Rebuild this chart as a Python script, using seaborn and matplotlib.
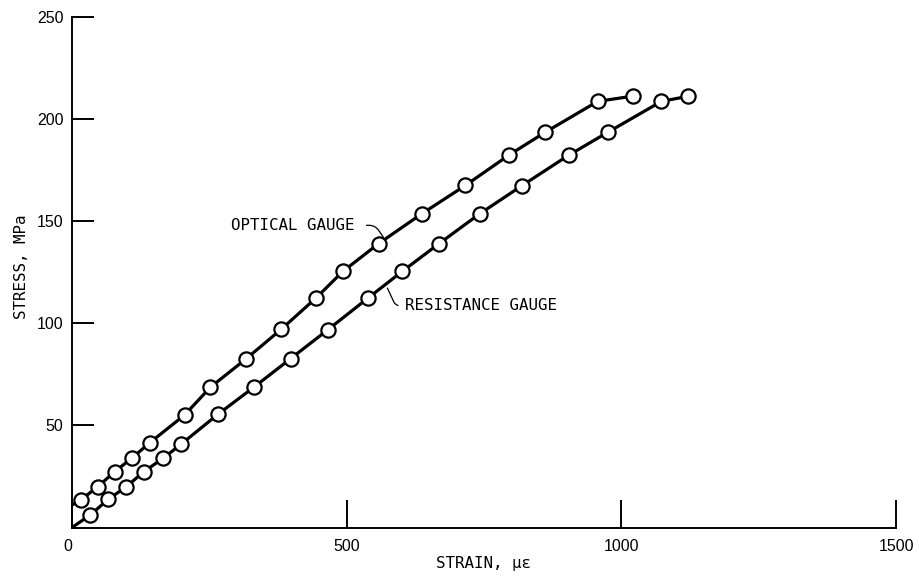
import numpy as np
import matplotlib
matplotlib.use('Agg')
import matplotlib.pyplot as plt
import pandas as pd
import seaborn as sns

# strain (micro-strain) vs stress (MPa)
optical_strain = [0, 16, 47, 78, 110, 142, 205, 252, 316, 381, 445, 493, 558, 637, 716, 796, 861, 957, 1022]
optical_stress = [11, 13.5, 20, 27.4, 34.2, 41.6, 55.1, 68.7, 82.4, 97.1, 112.6, 125.4, 139, 153.7, 167.5, 182.5, 193.5, 208.7, 211.3]

resist_strain = [0, 33, 66, 99, 131, 166, 199, 266, 331, 398, 466, 539, 601, 668, 742, 819, 904, 975, 1073, 1122]
resist_stress = [0, 6.1, 13.8, 20, 27.4, 33.9, 40.9, 55.5, 68.7, 82.7, 96.9, 112.4, 125.4, 139, 153.6, 167.4, 182.3, 193.5, 208.7, 211.2]

x_ticks = [0, 500, 1000, 1500]
y_ticks = [50, 100, 150, 200, 250]

opt = pd.DataFrame({'strain': optical_strain, 'stress': optical_stress})
res = pd.DataFrame({'strain': resist_strain, 'stress': resist_stress})

sns.set_style('ticks', {'text.color': 'black', 'axes.labelcolor': 'black',
                        'xtick.color': 'black', 'ytick.color': 'black',
                        'axes.edgecolor': 'black'})
mono = ['DejaVu Sans Mono']
num = ['Liberation Sans Narrow', 'Liberation Sans', 'DejaVu Sans']

fig, ax = plt.subplots(figsize=(9.19, 5.79), dpi=100)
fig.subplots_adjust(left=0.0783, right=0.975, bottom=0.0889, top=0.9706)

for d in (opt, res):
    sns.lineplot(data=d, x='strain', y='stress', sort=False, color='black', lw=2.3, ax=ax, zorder=2)
    sns.scatterplot(data=d.iloc[1:], x='strain', y='stress', marker='o', s=105, facecolor='white',
                    edgecolor='black', linewidth=1.6, ax=ax, zorder=3, legend=False)

ax.set_xlim(0, 1500)
ax.set_ylim(0, 250)
ax.set_xticks(x_ticks)
ax.set_yticks(y_ticks)
ax.set_xticklabels([str(v) for v in x_ticks], family=num, fontsize=11.5)
ax.set_yticklabels([str(v) for v in y_ticks], family=num, fontsize=11.5)
ax.get_xticklabels()[0].set_horizontalalignment('right')
ax.tick_params(axis='x', direction='in', length=20, width=1.4, pad=8, colors='black')
ax.tick_params(axis='y', direction='in', length=16, width=1.4, pad=6, colors='black')

sns.despine(ax=ax)
for s in ('left', 'bottom'):
    ax.spines[s].set_linewidth(1.4)
    ax.spines[s].set_color('black')

ax.set_xlabel('STRAIN, \u03bc\u03b5', family=mono, fontsize=11.4, labelpad=2, color='black')
ax.set_ylabel('STRESS, MPa', family=mono, fontsize=11.4, color='black')
ax.yaxis.set_label_coords(-0.052, 0.51)

ax.annotate('OPTICAL GAUGE', xy=(570, 141), xytext=(515, 148), textcoords='data',
            ha='right', va='center', family=mono, fontsize=11.4, color='black',
            arrowprops=dict(arrowstyle='-', color='black', lw=0.9, shrinkA=6, shrinkB=2,
                            connectionstyle='angle,angleA=0,angleB=-55,rad=6'))
ax.annotate('RESISTANCE GAUGE', xy=(572, 118.5), xytext=(607, 108.7), textcoords='data',
            ha='left', va='center', family=mono, fontsize=11.4, color='black',
            arrowprops=dict(arrowstyle='-', color='black', lw=0.9, shrinkA=3, shrinkB=2,
                            connectionstyle='angle,angleA=180,angleB=-65,rad=4'))

plt.savefig('out.png', dpi=100)
